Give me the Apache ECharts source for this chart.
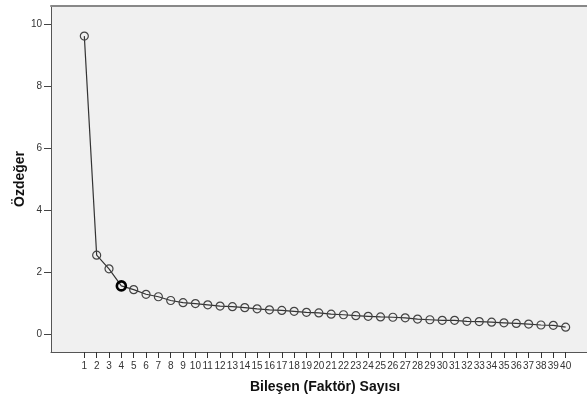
<!DOCTYPE html>
<html>
<head>
<meta charset="utf-8">
<script src="https://cdn.jsdelivr.net/npm/echarts@6/dist/echarts.min.js"></script>
<style>
html,body{margin:0;padding:0;background:#fff;}
#c{width:587px;height:401px;}
</style>
</head>
<body>
<div id="c"></div>
<script>
// Scree plot data
const components = [1,2,3,4,5,6,7,8,9,10,11,12,13,14,15,16,17,18,19,20,21,22,23,24,25,26,27,28,29,30,31,32,33,34,35,36,37,38,39,40];
const eigenvalues = [9.62,2.56,2.12,1.57,1.45,1.30,1.22,1.10,1.03,1.00,0.96,0.92,0.90,0.87,0.83,0.80,0.78,0.75,0.72,0.70,0.66,0.64,0.61,0.59,0.57,0.56,0.54,0.50,0.48,0.46,0.46,0.43,0.42,0.40,0.38,0.36,0.34,0.31,0.30,0.24];
const yTicks = [0,2,4,6,8,10];
const highlighted = 4;
const xTitle = 'Bileşen (Faktör) Sayısı';
const yTitle = 'Özdeğer';

const X_MIN = -1.70, X_MAX = 41.73, Y_MIN = -0.56, Y_MAX = 10.59;
const FONT = 'Arial, "Liberation Sans", sans-serif';
const chart = echarts.init(document.getElementById('c'), null, {renderer:'canvas'});

const seriesData = components.map((c, i) => {
  const item = {value:[c, eigenvalues[i]]};
  if (c === highlighted) {
    item.symbolSize = 9;
    item.itemStyle = {borderColor:'#000', borderWidth:2.6, color:'transparent'};
  }
  return item;
});

chart.setOption({
  animation:false,
  grid:[
    {left:51, top:6, right:0, bottom:49, show:true, backgroundColor:'#f0f0f0', borderWidth:0,
     containLabel:false, outerBoundsMode:'none'}
  ],
  xAxis:[
    {type:'value', min:X_MIN, max:X_MAX, position:'bottom',
     axisLine:{show:true, onZero:false, lineStyle:{color:'#555', width:1}},
     axisTick:{show:true, inside:false, length:6, customValues:components, lineStyle:{color:'#333', width:1}},
     axisLabel:{show:true, margin:9, customValues:components, fontFamily:FONT, fontSize:10, color:'#333', hideOverlap:false},
     splitLine:{show:false},
     name:xTitle, nameLocation:'middle', nameGap:28, nameMoveOverlap:false,
     nameTextStyle:{fontFamily:FONT, fontWeight:'bold', fontSize:14, color:'#111', padding:[0,0,0,12]}},
    {type:'value', min:X_MIN, max:X_MAX, position:'top',
     axisLine:{show:true, onZero:false, lineStyle:{color:'#888', width:2}},
     axisTick:{show:false}, axisLabel:{show:false}, splitLine:{show:false}}
  ],
  yAxis:[
    {type:'value', min:Y_MIN, max:Y_MAX, position:'left',
     axisLine:{show:true, onZero:false, lineStyle:{color:'#555', width:1}},
     axisTick:{show:true, inside:false, length:7, customValues:yTicks, lineStyle:{color:'#444', width:1}},
     axisLabel:{show:true, margin:9, customValues:yTicks, fontFamily:FONT, fontSize:10, color:'#333'},
     splitLine:{show:false},
     name:yTitle, nameLocation:'middle', nameGap:24, nameRotate:90, nameMoveOverlap:false,
     nameTextStyle:{fontFamily:FONT, fontWeight:'bold', fontSize:14, color:'#111'}}
  ],
  series:[
    {
      type:'line', xAxisIndex:0, yAxisIndex:0,
      data:seriesData,
      symbol:'circle', symbolSize:8,
      lineStyle:{color:'#333', width:1.2},
      itemStyle:{color:'transparent', borderColor:'#444', borderWidth:1.2},
      emphasis:{disabled:true}
    }
  ]
});
</script>
</body>
</html>
